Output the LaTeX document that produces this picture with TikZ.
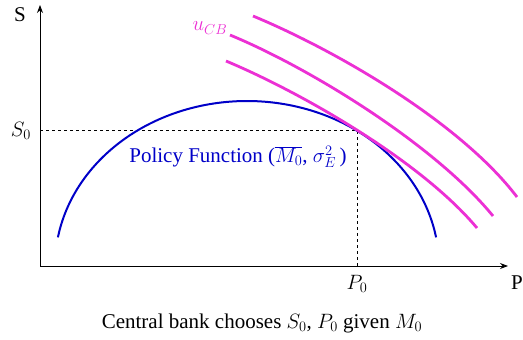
\documentclass[tikz,border=0pt]{standalone}
\usepackage{fontspec}
\setmainfont{LiberationSerif}[Extension=.ttf,UprightFont=*-Regular,ItalicFont=*-Italic,BoldFont=*-Bold,BoldItalicFont=*-BoldItalic]
\usetikzlibrary{arrows.meta}
\definecolor{pcb}{RGB}{236,48,212}
\definecolor{pfb}{RGB}{0,0,200}
\begin{document}
\begin{tikzpicture}[x=1pt,y=-1pt,
  axis/.style={line width=0.9pt,-{Stealth[length=8pt,width=6pt]}},
  guide/.style={dashed,line width=0.8pt},
  ucurve/.style={pcb,line width=2.8pt},
  pfcurve/.style={pfb,line width=2pt},
  lbl/.style={font=\rmfamily\fontsize{21}{24}\selectfont,inner sep=0pt}]
\useasboundingbox (0,0) rectangle (523,340);
\coordinate (O) at (40,266);
\coordinate (ytop) at (40,5);
\coordinate (xend) at (508,266);
\coordinate (T) at (357,130);
\coordinate (Sy) at (40,130);
\coordinate (Px) at (357,266);
% dashed guides
\draw[guide] (Sy) -- (T) -- (Px);
% policy function (ellipse arc)
\draw[pfcurve] plot[domain=170:10,samples=80,smooth] ({247+192*cos(\x)},{266-165*sin(\x)});
% indifference curves
\draw[ucurve] (226,61) .. controls (300,92) and (420,160) .. (477,228);
\draw[ucurve] (230,35) .. controls (310,68) and (435,145) .. (493,216);
\draw[ucurve] (253,16) .. controls (335,50) and (460,122) .. (517,197);
% axes
\draw[axis] (O) -- (ytop);
\draw[axis] (O) -- (xend);
% labels
\node[lbl] (S) at (20,15) {S};
\node[lbl,anchor=east] (P) at (523,283) {P};
\node[lbl] (S0) at (21,131) {$S_0$};
\node[lbl] (P0) at (357,284) {$P_0$};
\node[lbl,pcb] (u) at (210,28) {$u_{CB}$};
\node[lbl,pfb] (pf) at (238,157) {Policy Function ($\overline{M_0}$,~$\sigma_{E}^{2}$\,)};
\node[lbl] (cap) at (262,323) {Central bank chooses $S_0$, $P_0$ given $M_0$};
\end{tikzpicture}
\end{document}
